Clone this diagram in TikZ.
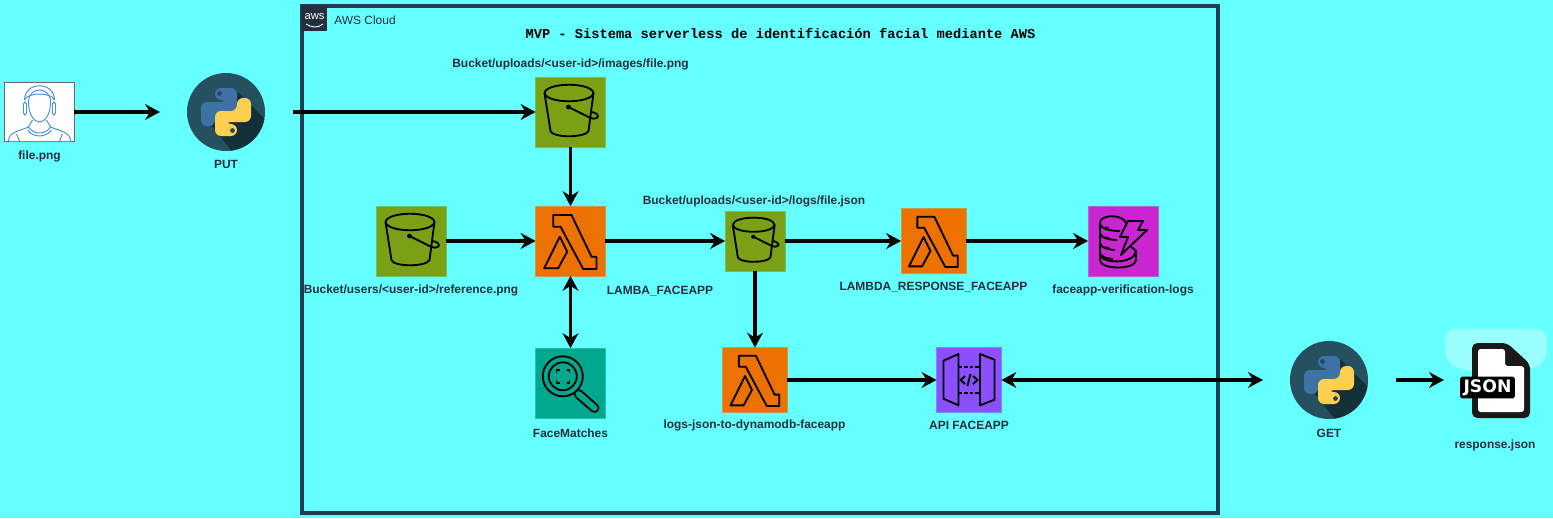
\documentclass[tikz,border=0pt]{standalone}
\usepackage{fontspec}
\setmainfont{Liberation Sans}
\setmonofont{Liberation Mono}
\newfontfamily\badgefont{DejaVu Sans}
\usetikzlibrary{arrows.meta}
\definecolor{bgcyan}{HTML}{66FFFF}
\definecolor{awsnavy}{HTML}{232F3E}
\definecolor{cloudline}{HTML}{1C3F50}
\definecolor{s3green}{HTML}{7AA116}
\definecolor{lambdaorange}{HTML}{ED7100}
\definecolor{dynamopink}{HTML}{C925D1}
\definecolor{rekogteal}{HTML}{01A88D}
\definecolor{apipurple}{HTML}{8C4FFF}
\definecolor{pybg}{HTML}{24505F}
\definecolor{pyshadow}{HTML}{143038}
\definecolor{pyblue}{HTML}{3D72A6}
\definecolor{pyyellow}{HTML}{FFD04F}
\definecolor{userblue}{HTML}{4A90D9}
\definecolor{glowcyan}{HTML}{99FFFF}
\tikzset{
	service/.style={draw=#1!70!bgcyan,fill=#1,line width=0.4pt,minimum size=70*0.567pt,inner sep=0pt,outer sep=0pt},
	caption/.style={text=awsnavy,font=\fontsize{6.8}{8}\selectfont\bfseries,inner sep=0pt,yshift=-0.5pt},
	flow/.style={line width=2pt,-{Stealth[length=8.5pt,width=9pt,inset=2.8pt]}},
	flowboth/.style={line width=2pt,{Stealth[length=8.5pt,width=9pt,inset=2.8pt]}-{Stealth[length=8.5pt,width=9pt,inset=2.8pt]}},
	icon/.style={draw=black,line width=1.05pt,line join=round},
	pics/bucketicon/.style={code={
		\draw [icon] (-26,-19) .. controls (-24,-30) and (21,-30) .. (23,-19) .. controls (21,-8) and (-24,-8) .. (-26,-19);
		\draw [icon] (-26,-19) -- (-20,19) .. controls (-18,26) and (15,26) .. (18,19) -- (23,-19);
		\fill (-2,-5) circle (2.4);
		\draw [icon] (-2,-5) -- (20,6) .. controls (25,8) and (29,5) .. (27,3) .. controls (26,1) and (22,0) .. (20,0);
	}},
	pics/lambdaicon/.style={code={
		\draw [icon] (-17.3,-26) -- (1,-26) -- (21,15.7) -- (26,15.7) -- (26,28) -- (12.7,28) -- (-10,-14.3) -- (-17.3,-14.3) -- cycle;
		\draw [icon] (-10.7,-4.3) -- (-3.3,10.7) -- (-12.3,27.3) -- (-26.3,27.3) -- cycle;
	}},
	pics/pythonicon/.style={code={
		\fill [pybg] (0,0) circle (39);
		\begin{scope}
			\clip (0,0) circle (39);
			\fill [pyshadow] (12,-20) -- (70,38) -- (30,70) -- (-14,14) -- cycle;
		\end{scope}
		\fill [pyblue,rounded corners=3.5] (-11,-12) -- (-11,-24) -- (11,-24) -- (11,1) -- (-11,1) -- (-11,14) -- (-25,14) -- (-25,-10) -- (1,-10) -- (1,-12) -- cycle;
		\fill [pyyellow,rounded corners=3.5] (11,12) -- (11,24) -- (-11,24) -- (-11,-1) -- (11,-1) -- (11,-14) -- (25,-14) -- (25,10) -- (-1,10) -- (-1,12) -- cycle;
		\fill [pyblue!60!black] (-6.5,-18.5) circle (2.4);
		\fill [pyblue!60!black] (6.5,18.5) circle (2.4);
	}},
}
\begin{document}
\begin{tikzpicture}[x=0.02cm,y=-0.02cm]
	\useasboundingbox (0,0) rectangle (1553,518);
	\fill [bgcyan] (0,0) rectangle (1553,518);

	% cloud frame
	\draw [cloudline,line width=2.1pt] (302,6) rectangle (1218,513);
	\fill [awsnavy] (302,6) rectangle (327,31);
	\node [text=white,font=\fontsize{6.4}{7}\selectfont,inner sep=0pt] (awslogo) at (314.5,16.5) {aws};
	\draw [white,line width=0.5pt] (306,24) .. controls (312,28) and (318,28) .. (323,24);
	\node [caption,font=\fontsize{6.8}{8}\selectfont,anchor=west] (cloudtitle) at (334,19.5) {AWS Cloud};
	\node [font=\fontsize{7.8}{9}\selectfont\ttfamily\bfseries,inner sep=0pt] (title) at (780.5,33.5) {MVP - Sistema serverless de identificación facial mediante AWS};

	% user
	\node [draw=black!60,fill=white,line width=0.5pt,minimum width=70*0.567pt,minimum height=60*0.567pt,inner sep=0pt,outer sep=0pt] (user) at (39.5,112) {};
	\begin{scope}[shift={(39.5,112)},userblue,line width=0.55pt]
		\draw (-11,-10) .. controls (-11,-26) and (11,-26) .. (11,-10) .. controls (11,3) and (5,10) .. (0,10) .. controls (-5,10) and (-11,3) .. (-11,-10);
		\draw (-15,-12) .. controls (-15,-31) and (15,-31) .. (15,-12);
		\draw (-15,-12) .. controls (-12,-20) and (12,-20) .. (15,-12);
		\draw [rounded corners=1] (-16,-10) rectangle (-13,3);
		\draw [rounded corners=1] (13,-10) rectangle (16,3);
		\draw (-31,29) .. controls (-31,20) and (-20,19) .. (-11,15) -- (-7,8);
		\draw (31,29) .. controls (31,20) and (20,19) .. (11,15) -- (7,8);
		\draw (-11,15) .. controls (-6,23) and (6,23) .. (11,15);
		\draw (-12,18) .. controls (-6,26) and (6,26) .. (12,18);
		\draw (-23,22) -- (-20,29);
		\draw (23,22) -- (20,29);
		\draw (-31,29) -- (31,29);
	\end{scope}
	\node [caption] (userlabel) at (39.5,155.5) {file.png};

	% python clients
	\coordinate (put) at (226,112);
	\pic at (put) {pythonicon};
	\node [caption] (putlabel) at (226,164) {PUT};
	\coordinate (putin) at (160,112);
	\coordinate (putout) at (293,112);
	\coordinate (get) at (1329,380);
	\pic at (get) {pythonicon};
	\node [caption] (getlabel) at (1329,433) {GET};
	\coordinate (getside) at (1263,380);
	\coordinate (getout) at (1396,380);
	\coordinate (jsonin) at (1444,380);

	% services
	\node [service=s3green] (bktimages) at (570.5,112) {};
	\node [service=s3green] (bktref) at (411.5,241) {};
	\node [service=lambdaorange] (lmbface) at (570.5,241) {};
	\node [service=s3green,minimum size=60*0.567pt] (bktlogs) at (755,241) {};
	\node [service=lambdaorange,minimum size=65*0.567pt] (lmbresp) at (933.5,241) {};
	\node [service=dynamopink] (dynamo) at (1123,241) {};
	\node [service=rekogteal] (faces) at (570.5,383) {};
	\node [service=lambdaorange,minimum size=65*0.567pt] (lmblogs) at (755,380) {};
	\node [service=apipurple,minimum size=65*0.567pt] (api) at (969,380) {};

	\pic at (bktimages) {bucketicon};
	\pic at (bktref) {bucketicon};
	\pic [scale=0.857] at (bktlogs) {bucketicon};
	\pic at (lmbface) {lambdaicon};
	\pic [scale=0.93] at (lmbresp) {lambdaicon};
	\pic [scale=0.93] at (lmblogs) {lambdaicon};

	% dynamo icon
	\begin{scope}[shift={(1123,241)}]
		\draw [icon] (3,-18) .. controls (0,-27) and (-23,-27) .. (-23,-18) .. controls (-23,-12) and (-12,-10) .. (-3,-10);
		\draw [icon] (-23,-18) -- (-23,-8) .. controls (-23,-3) and (-12,-1) .. (-6,-1);
		\draw [icon] (-23,-8) -- (-23,2) .. controls (-23,7) and (-12,9) .. (-8,9);
		\draw [icon] (-23,2) -- (-23,12) .. controls (-23,16) and (-14,18) .. (-10,18);
		\draw [icon] (-23,12) -- (-23,19) .. controls (-23,29) and (13,29) .. (13,19) -- (13,9);
		\draw [icon] (-23,14) .. controls (-20,23) and (10,23) .. (13,11) .. controls (12,8) and (10,7) .. (8,6);
		\draw [icon] (5,-20) -- (20,-20) -- (15,-11) -- (24,-11) -- (-2,14) -- (5,-4) -- (-3,-4) -- cycle;
		\foreach \rowy in {-14,-4,6}
			\draw [icon,line width=0.7pt] (-18,\rowy) -- (-14,\rowy+1);
	\end{scope}

	% rekognition icon
	\begin{scope}[shift={(570.5,383)}]
		\draw [line width=5.6pt,line cap=round] (8,11) -- (24,25);
		\draw [rekogteal,line width=3.4pt,line cap=round] (8,11) -- (24,25);
		\fill [rekogteal] (-7.7,-6.7) circle (20);
		\draw [icon] (-7.7,-6.7) circle (20);
		\draw [icon] (-7.7,-6.7) circle (14);
		\draw [icon] (-14,-10) -- (-14,-13) -- (-11,-13);
		\draw [icon] (-4,-13) -- (-1,-13) -- (-1,-10);
		\draw [icon] (-14,-3) -- (-14,0) -- (-11,0);
		\draw [icon] (-4,0) -- (-1,0) -- (-1,-3);
	\end{scope}

	% api icon
	\begin{scope}[shift={(969,380)}]
		\draw [icon] (-25.5,-19.3) -- (-10.5,-26) -- (-10.5,25.3) -- (-25.5,18.7) -- cycle;
		\draw [icon] (11,-26) -- (25.5,-20.3) -- (25.5,19.7) -- (11,25.3) -- cycle;
		\draw [icon,dashed,dash pattern=on 2pt off 1.2pt] (-10.5,-13) -- (11,-13);
		\draw [icon,dashed,dash pattern=on 2pt off 1.2pt] (-10.5,13) -- (11,13);
		\draw [icon] (-4,-4) -- (-8.5,0) -- (-4,4);
		\draw [icon] (4,-4) -- (8.5,0) -- (4,4);
		\draw [icon] (1.5,-6) -- (-1.5,6);
	\end{scope}

	% json file
	\fill [glowcyan,rounded corners=6pt] (1445,329) -- (1547,329) -- (1547,362) .. controls (1520,375) and (1472,375) .. (1445,362) -- cycle;
	\fill [black!90,rounded corners=3pt] (1472,343) -- (1507,343) -- (1530,364) -- (1530,418) -- (1472,418) -- cycle;
	\fill [white,rounded corners=1.5pt] (1478,349) -- (1505,349) -- (1505,366) -- (1524,366) -- (1524,412) -- (1478,412) -- cycle;
	\node [fill=black,text=white,rounded corners=1.5pt,font=\fontsize{9.8}{10}\selectfont\badgefont\bfseries,inner sep=0pt,minimum width=55*0.567pt,minimum height=22*0.567pt] (jsonbadge) at (1487.5,387.5) {JSON};
	\node [caption] (jsonlabel) at (1495,445) {response.json};

	% labels
	\node [caption] (imageslabel) at (570.5,64) {Bucket/uploads/<user-id>/images/file.png};
	\node [caption] (reflabel) at (411,290) {Bucket/users/<user-id>/reference.png};
	\node [caption] (facelabel) at (660,290) {LAMBA\_FACEAPP};
	\node [caption] (logslabel) at (754,201) {Bucket/uploads/<user-id>/logs/file.json};
	\node [caption] (resplabel) at (933.5,286) {LAMBDA\_RESPONSE\_FACEAPP};
	\node [caption] (dynamolabel) at (1123,290) {faceapp-verification-logs};
	\node [caption] (faceslabel) at (570.5,432) {FaceMatches};
	\node [caption] (lmblogslabel) at (754.5,425) {logs-json-to-dynamodb-faceapp};
	\node [caption] (apilabel) at (969,425) {API FACEAPP};

	% connectors
	\draw [flow] (user.east) -- (putin);
	\draw [flow] (putout) -- (bktimages.west);
	\draw [flow] (bktimages.south) -- (lmbface.north);
	\draw [flow] (bktref.east) -- (lmbface.west);
	\draw [flow] (lmbface.east) -- (bktlogs.west);
	\draw [flow] (bktlogs.east) -- (lmbresp.west);
	\draw [flow] (lmbresp.east) -- (dynamo.west);
	\draw [flowboth] (lmbface.south) -- (faces.north);
	\draw [flow] (bktlogs.south) -- (lmblogs.north);
	\draw [flow] (lmblogs.east) -- (api.west);
	\draw [flowboth] (api.east) -- (getside);
	\draw [flow] (getout) -- (jsonin);
\end{tikzpicture}
\end{document}
